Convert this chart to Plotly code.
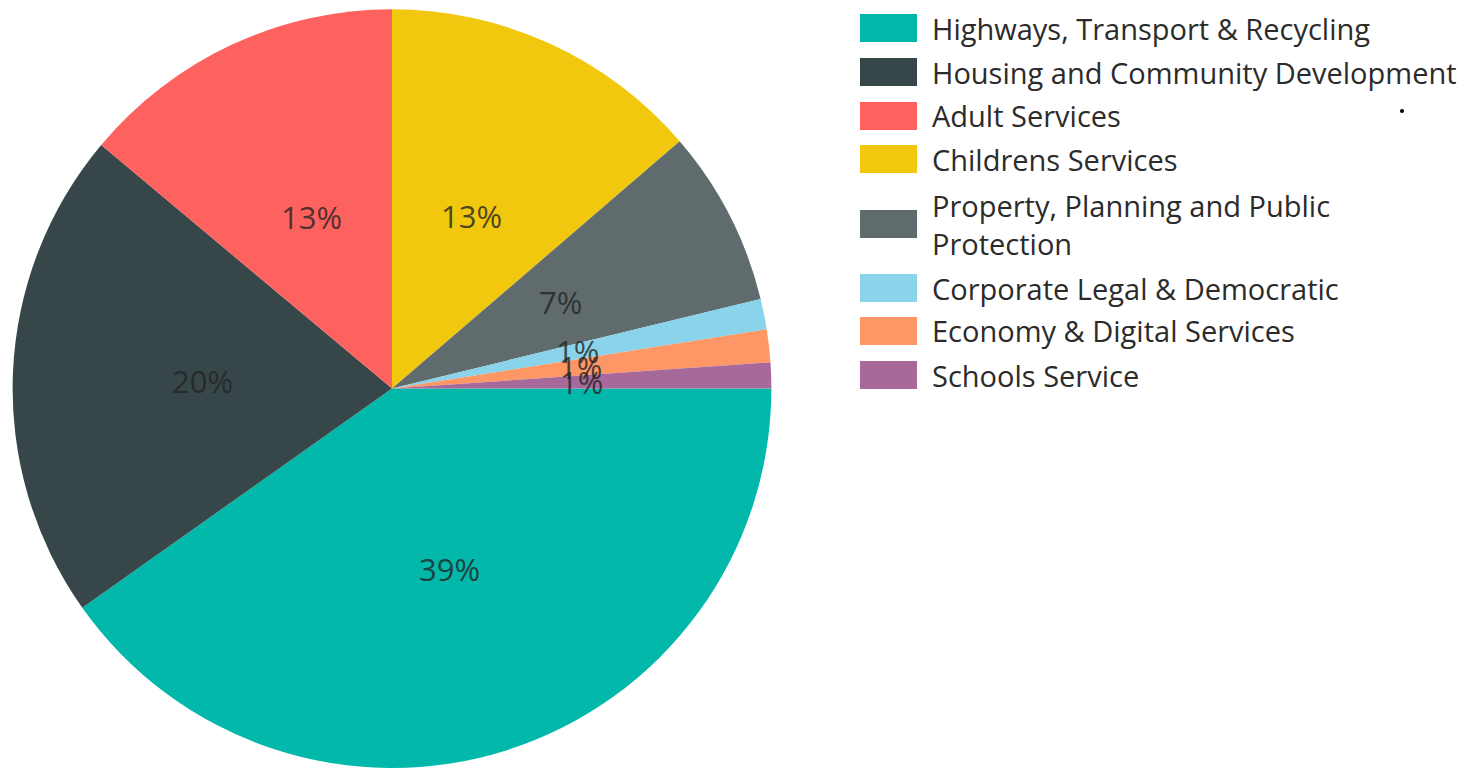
import math
import plotly.graph_objects as go

categories = [
    "Highways, Transport & Recycling",
    "Housing and Community Development",
    "Adult Services",
    "Childrens Services",
    "Property, Planning and Public<br>Protection",
    "Corporate Legal & Democratic",
    "Economy & Digital Services",
    "Schools Service",
]
values = [40.2, 20.9, 13.9, 13.7, 7.5, 1.3, 1.4, 1.1]
pct_labels = ["39%", "20%", "13%", "13%", "7%", "1%", "1%", "1%"]
colors = ["#01B8AA", "#374649", "#FD625E", "#F2C80F", "#5F6B6D", "#8AD4EB", "#FE9666", "#A66999"]

W, H = 1466, 768
FONT = "Open Sans"

dom_x = [12 / W, 772 / W]
dom_y = [0.0, 0.988]

fig = go.Figure()
fig.add_trace(go.Pie(
    labels=categories,
    values=values,
    textinfo="none",
    sort=False,
    direction="clockwise",
    rotation=90,
    marker=dict(colors=colors, line=dict(width=0)),
    domain=dict(x=dom_x, y=dom_y),
    showlegend=False,
    hoverinfo="label+percent",
))

# Percentage labels at half radius, positioned from the data's slice angles
cx_px = (dom_x[0] + dom_x[1]) / 2 * W
cy_px = (1 - (dom_y[0] + dom_y[1]) / 2) * H  # from top
R = min((dom_x[1] - dom_x[0]) * W, (dom_y[1] - dom_y[0]) * H) / 2
total = sum(values)
annotations = []
cum = 0.0
for v, lab in zip(values, pct_labels):
    mid = (cum + v / 2) / total * 2 * math.pi  # clockwise from 3 o'clock
    cum += v
    px = cx_px + 0.5 * R * math.cos(mid)
    py = cy_px + 0.5 * R * math.sin(mid)
    annotations.append(dict(xref="paper", yref="paper", x=px / W, y=1 - py / H,
                            xanchor="center", yanchor="middle", showarrow=False,
                            text=lab,
                            font=dict(family=FONT, size=31, color="rgba(35,35,35,0.8)")))

# Legend drawn as swatches + text
row_y = [28, 72, 116, 159, 224, 288, 331, 375]
shapes = []
for i, (cat, col) in enumerate(zip(categories, colors)):
    y = row_y[i]
    shapes.append(dict(type="rect", xref="paper", yref="paper",
                       x0=860 / W, x1=917 / W,
                       y0=1 - (y + 14) / H, y1=1 - (y - 14) / H,
                       fillcolor=col, line=dict(width=0)))
    annotations.append(dict(xref="paper", yref="paper", x=930 / W, y=1 - y / H,
                            xanchor="left", yanchor="middle", showarrow=False,
                            text=cat, align="left",
                            font=dict(family=FONT, size=29, color="#2b2b2b")))
# small dot artefact
shapes.append(dict(type="circle", xref="paper", yref="paper",
                   x0=1400 / W, x1=1404 / W, y0=1 - 113 / H, y1=1 - 109 / H,
                   fillcolor="black", line=dict(width=0)))

fig.update_layout(
    width=W, height=H,
    margin=dict(l=0, r=0, t=0, b=0),
    paper_bgcolor="white",
    plot_bgcolor="white",
    shapes=shapes,
    annotations=annotations,
    font=dict(family=FONT),
)

fig.write_html("out.html")
